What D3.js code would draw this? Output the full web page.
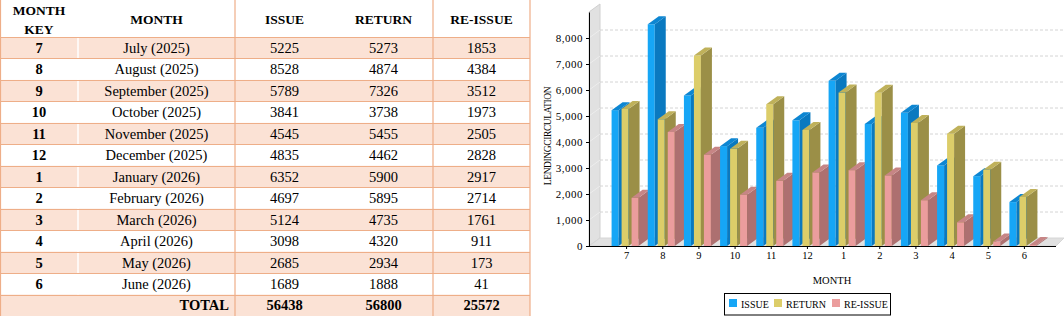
<!DOCTYPE html>
<html lang="en">
<head>
<meta charset="UTF-8">
<title>Lending circulation</title>
<script src="https://cdnjs.cloudflare.com/ajax/libs/d3/7.8.5/d3.min.js"></script>
<style>
  body { margin: 0; background: #fff; }
  svg text { font-family: "Liberation Serif", "DejaVu Serif", serif; fill: #000; }
</style>
</head>
<body>
<svg id="board" width="1064" height="316"></svg>
<script>
// data
const monthKeys = ["7", "8", "9", "10", "11", "12", "1", "2", "3", "4", "5", "6"];
const monthNames = ["July (2025)", "August (2025)", "September (2025)", "October (2025)",
  "November (2025)", "December (2025)", "January (2026)", "February (2026)",
  "March (2026)", "April (2026)", "May (2026)", "June (2026)"];
const issue   = [5225, 8528, 5789, 3841, 4545, 4835, 6352, 4697, 5124, 3098, 2685, 1689];
const returns = [5273, 4874, 7326, 3738, 5455, 4462, 5900, 5895, 4735, 4320, 2934, 1888];
const reissue = [1853, 4384, 3512, 1973, 2505, 2828, 2917, 2714, 1761, 911, 173, 41];
const totals  = [56438, 56800, 25572];
const seriesNames = ["ISSUE", "RETURN", "RE-ISSUE"];
const yTicks = [0, 1000, 2000, 3000, 4000, 5000, 6000, 7000, 8000];

const svg = d3.select("#board");

// ---------- table ----------
const colEdges = [0, 78, 235, 334, 433, 530];
const headH = 37;
const rowH = (316 - headH) / 13;
const lineCol = "#eeae88";
const peach = "#fbe2d5";
const tbl = svg.append("g");

const rows = monthKeys.map((k, i) => [k, monthNames[i], issue[i], returns[i], reissue[i]]);

// row backgrounds
tbl.selectAll("rect.row")
  .data(d3.range(13))
  .join("rect")
  .attr("x", 0).attr("y", i => headH + i * rowH)
  .attr("width", colEdges[5]).attr("height", rowH)
  .attr("fill", i => i % 2 === 0 ? peach : "#fff");

// white divider between key and month
tbl.append("line")
  .attr("x1", 78).attr("x2", 78).attr("y1", headH).attr("y2", headH + rowH * 12)
  .attr("stroke", "#fff").attr("stroke-width", 1.5);

// horizontal lines
tbl.selectAll("line.h")
  .data(d3.range(14))
  .join("line")
  .attr("x1", 0).attr("x2", colEdges[5])
  .attr("y1", i => Math.round(headH + i * rowH) + 0.5)
  .attr("y2", i => Math.round(headH + i * rowH) + 0.5)
  .attr("stroke", lineCol).attr("stroke-width", 1);

// vertical lines
tbl.selectAll("line.v")
  .data([0.5, 235, 433, 530])
  .join("line")
  .attr("x1", d => d).attr("x2", d => d)
  .attr("y1", 0).attr("y2", 316)
  .attr("stroke", lineCol).attr("stroke-width", 1.2);

// header
const centers = d3.range(5).map(c => (colEdges[c] + colEdges[c + 1]) / 2);
const head = tbl.append("g").attr("font-weight", "bold").attr("font-size", 13.5).attr("text-anchor", "middle");
head.append("text").attr("x", centers[0]).attr("y", 14.5).text("MONTH");
head.append("text").attr("x", centers[0]).attr("y", 34).text("KEY");
["MONTH", "ISSUE", "RETURN", "RE-ISSUE"].forEach((h, j) => {
  head.append("text").attr("x", centers[j + 1]).attr("y", 23.5).text(h);
});

// body
rows.forEach((r, i) => {
  const cy = headH + rowH * (i + 0.5);
  r.forEach((v, c) => {
    tbl.append("text")
      .attr("x", centers[c]).attr("y", cy).attr("dy", "0.36em")
      .attr("text-anchor", "middle")
      .attr("font-size", 14.5)
      .attr("font-weight", c === 0 ? "bold" : "normal")
      .text(v);
  });
});

// total row
const ty = headH + rowH * 12.5;
tbl.append("text").attr("x", 229).attr("y", ty).attr("dy", "0.36em")
  .attr("text-anchor", "end").attr("font-size", 14.5).attr("font-weight", "bold").text("TOTAL");
totals.forEach((t, j) => {
  tbl.append("text").attr("x", centers[j + 2]).attr("y", ty).attr("dy", "0.36em")
    .attr("text-anchor", "middle").attr("font-size", 14.5).attr("font-weight", "bold").text(t);
});

// ---------- 3D bar chart ----------
const x = d3.scaleBand().domain(monthKeys).range([608.5, 1042.5]);
const y = d3.scaleLinear().domain([0, 9000]).range([246, 12]);
const sx = d3.scaleBand().domain(seriesNames).range([-15, 15]);
const dx = 11, dy = -8, barW = 7;
const axisL = 589, axisR = 1056;
const chart = svg.append("g");

const colours = {
  "ISSUE":    { front: "#16a6f6", side: "#0a79c0", top: "#0d86d2" },
  "RETURN":   { front: "#dccd69", side: "#9b8f47", top: "#bfb15a" },
  "RE-ISSUE": { front: "#eb9d9d", side: "#ad7070", top: "#c78585" }
};

// back wall and floor
chart.append("polygon")
  .attr("points", [[axisL, y(9000)], [axisL + dx, y(9000) + dy], [axisL + dx, y(0) + dy], [axisL, y(0)]].join(" "))
  .attr("fill", "#e1e1e1").attr("stroke", "#d0d0d0");
chart.append("polygon")
  .attr("points", [[axisL, y(0)], [axisL + dx, y(0) + dy], [1064, y(0) + dy], [axisR, y(0)]].join(" "))
  .attr("fill", "#e1e1e1").attr("stroke", "#d6d6d6");

// gridlines on the back plane
chart.selectAll("line.grid")
  .data(yTicks.slice(1))
  .join("line")
  .attr("x1", axisL + dx).attr("x2", 1064)
  .attr("y1", d => y(d) + dy).attr("y2", d => y(d) + dy)
  .attr("stroke", "#d4d4d4").attr("stroke-dasharray", "3,2");
chart.selectAll("line.wallgrid")
  .data(yTicks.slice(1))
  .join("line")
  .attr("x1", axisL).attr("x2", axisL + dx)
  .attr("y1", d => y(d)).attr("y2", d => y(d) + dy)
  .attr("stroke", "#ededed");

// bars, drawn left to right so nearer faces cover the sides
const seriesVals = { "ISSUE": issue, "RETURN": returns, "RE-ISSUE": reissue };
const bars = [];
monthKeys.forEach((m, i) => {
  seriesNames.forEach(s => bars.push({ m, s, v: seriesVals[s][i] }));
});
const bar = chart.selectAll("g.bar").data(bars).join("g").attr("class", "bar");
const bx = d => x(d.m) + x.bandwidth() / 2 + sx(d.s);
bar.append("rect")
  .attr("x", bx).attr("y", d => y(d.v))
  .attr("width", barW).attr("height", d => y(0) - y(d.v))
  .attr("fill", d => colours[d.s].front);
bar.append("polygon")
  .attr("points", d => {
    const x0 = bx(d) + barW, yt = y(d.v), yb = y(0);
    return [[x0, yt], [x0 + dx, yt + dy], [x0 + dx, yb + dy], [x0, yb]].join(" ");
  })
  .attr("fill", d => colours[d.s].side);
bar.append("polygon")
  .attr("points", d => {
    const x0 = bx(d), yt = y(d.v);
    return [[x0, yt], [x0 + barW, yt], [x0 + barW + dx, yt + dy], [x0 + dx, yt + dy]].join(" ");
  })
  .attr("fill", d => colours[d.s].top);

// axes
const yAxis = chart.append("g")
  .attr("transform", `translate(${axisL},0)`)
  .call(d3.axisLeft(y).tickValues(yTicks).tickFormat(d3.format(",")).tickSizeInner(3).tickSizeOuter(0));
yAxis.select(".domain").attr("stroke", "#000");
yAxis.selectAll("text").attr("font-size", 11).attr("letter-spacing", 0.5)
  .attr("font-family", "Liberation Serif, serif");

const xAxis = chart.append("g")
  .attr("transform", `translate(0,${y(0)})`)
  .call(d3.axisBottom(x).tickSizeInner(3).tickSizeOuter(0));
xAxis.select(".domain").remove();
xAxis.selectAll("text").attr("font-size", 10.5).attr("font-family", "Liberation Serif, serif");
chart.append("line")
  .attr("x1", axisL).attr("x2", axisR).attr("y1", y(0) + 0.5).attr("y2", y(0) + 0.5)
  .attr("stroke", "#000");

// titles
chart.append("text")
  .attr("transform", "translate(551,136) rotate(-90)")
  .attr("text-anchor", "middle").attr("font-size", 9.5).attr("letter-spacing", -0.4)
  .text("LENDINGCIRCULATION");
chart.append("text")
  .attr("x", 832).attr("y", 284).attr("text-anchor", "middle").attr("font-size", 10.5)
  .text("MONTH");

// legend
const legend = chart.append("g");
legend.append("rect")
  .attr("x", 724.5).attr("y", 293.5).attr("width", 166).attr("height", 21.5)
  .attr("fill", "#fff").attr("stroke", "#000");
const legendX = [729, 774, 832];
seriesNames.forEach((s, j) => {
  legend.append("rect").attr("x", legendX[j]).attr("y", 299).attr("width", 8).attr("height", 8)
    .attr("fill", colours[s].front);
  legend.append("text").attr("x", legendX[j] + 12).attr("y", 307.5).attr("font-size", 10)
    .text(s);
});
</script>
</body>
</html>
